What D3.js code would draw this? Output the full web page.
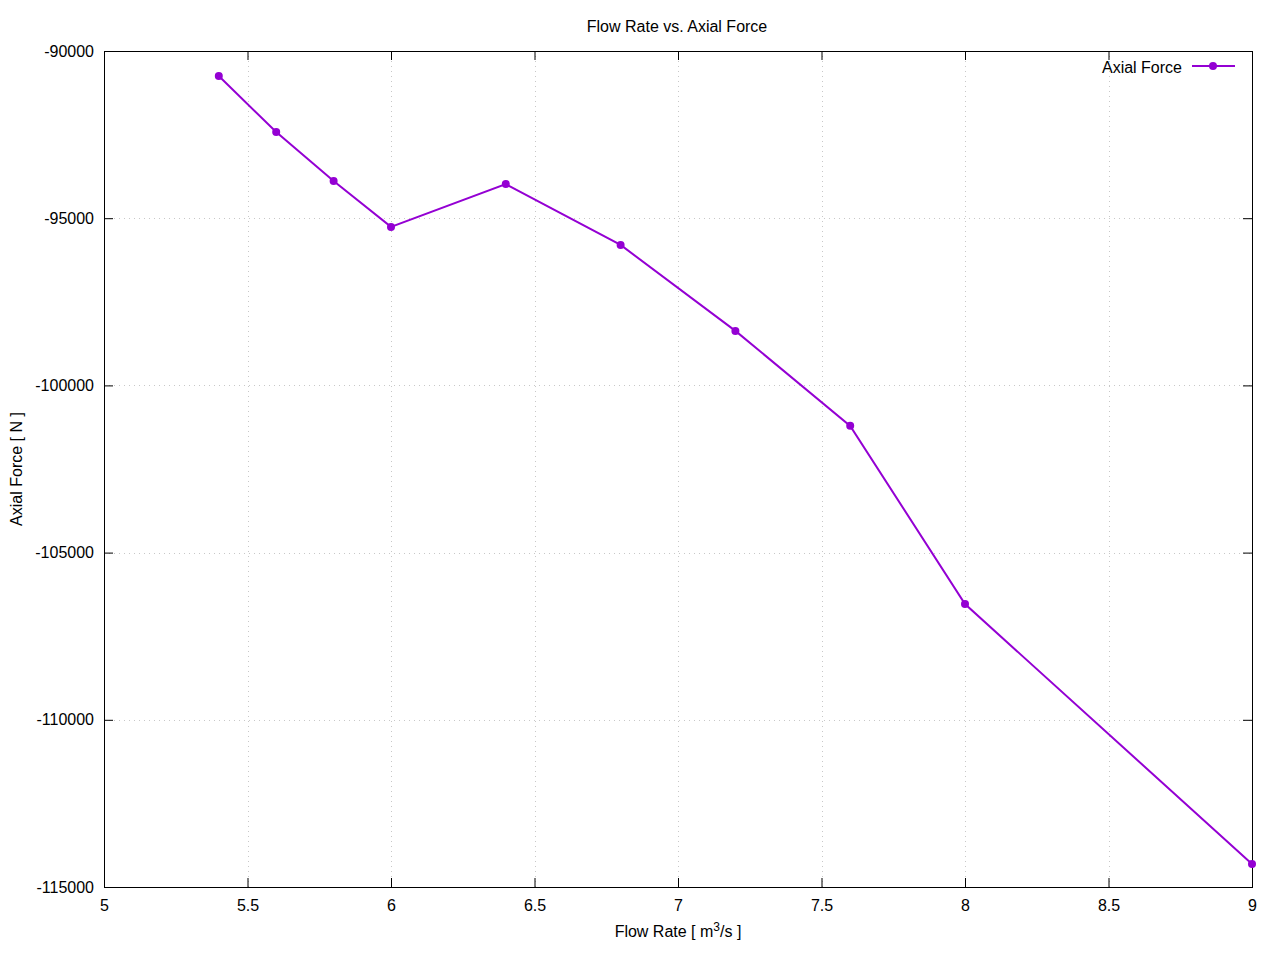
<!DOCTYPE html>
<html>
<head>
<meta charset="utf-8">
<style>
body { margin: 0; background: #fff; }
text { font-family: "Liberation Sans", Arial, sans-serif; fill: #000; }
</style>
</head>
<body>
<svg id="chart"></svg>
<script src="https://cdn.jsdelivr.net/npm/d3@7/dist/d3.min.js"></script>
<script>
// data
var flowRate = [5.4, 5.6, 5.8, 6.0, 6.4, 6.8, 7.2, 7.6, 8.0, 9.0];
var axialForce = [-90750, -92420, -93890, -95260, -93980, -95800, -98370, -101210, -106540, -114310];
var xTicks = [5, 5.5, 6, 6.5, 7, 7.5, 8, 8.5, 9];
var yTicks = [-90000, -95000, -100000, -105000, -110000, -115000];

var W = 1280, H = 960;
var pLeft = 104, pRight = 1252, pTop = 51, pBottom = 887;
var color = "#9400d3";

var svg = d3.select("#chart").attr("width", W).attr("height", H);

var x = d3.scaleLinear().domain([5, 9]).range([pLeft, pRight]);
var y = d3.scaleLinear().domain([-115000, -90000]).range([pBottom, pTop]);

// grid
var grid = svg.append("g").attr("stroke", "#c8c8c8").attr("stroke-width", 1).attr("stroke-dasharray", "1,4");
xTicks.slice(1, -1).forEach(function(t) {
  grid.append("line").attr("x1", Math.round(x(t)) + 0.5).attr("x2", Math.round(x(t)) + 0.5).attr("y1", pTop).attr("y2", pBottom);
});
yTicks.slice(1, -1).forEach(function(t) {
  grid.append("line").attr("x1", pLeft).attr("x2", pRight).attr("y1", Math.round(y(t)) + 0.5).attr("y2", Math.round(y(t)) + 0.5);
});

// axes (gnuplot style: inward ticks, mirrored)
var tl = 9;
var axB = d3.axisBottom(x).tickValues(xTicks).tickSizeInner(-tl).tickSizeOuter(0).tickPadding(tl + 4).tickFormat(function(d) { return String(d); });
var axT = d3.axisTop(x).tickValues(xTicks).tickSizeInner(-tl).tickSizeOuter(0).tickFormat("");
var axL = d3.axisLeft(y).tickValues(yTicks).tickSizeInner(-tl).tickSizeOuter(0).tickPadding(10).tickFormat(function(d) { return String(d); });
var axR = d3.axisRight(y).tickValues(yTicks).tickSizeInner(-tl).tickSizeOuter(0).tickFormat("");

[[axB, "translate(0," + pBottom + ")"], [axT, "translate(0," + pTop + ")"],
 [axL, "translate(" + pLeft + ",0)"], [axR, "translate(" + pRight + ",0)"]].forEach(function(a) {
  var g = svg.append("g").attr("transform", a[1]).call(a[0]);
  g.select(".domain").remove();
  g.selectAll("line").attr("stroke", "#000");
  g.selectAll("text").style("font-size", "16px").attr("fill", "#000")
    .style("font-family", "'Liberation Sans', Arial, sans-serif");
});

svg.append("rect").attr("x", pLeft + 0.5).attr("y", pTop + 0.5)
  .attr("width", pRight - pLeft).attr("height", pBottom - pTop)
  .attr("fill", "none").attr("stroke", "#000").attr("stroke-width", 1);

// series
var pts = flowRate.map(function(d, i) { return [d, axialForce[i]]; });
var line = d3.line().x(function(d) { return x(d[0]); }).y(function(d) { return y(d[1]); });
svg.append("path").datum(pts).attr("d", line)
  .attr("fill", "none").attr("stroke", color).attr("stroke-width", 2);
svg.append("g").selectAll("circle").data(pts).enter().append("circle")
  .attr("cx", function(d) { return x(d[0]); })
  .attr("cy", function(d) { return y(d[1]); })
  .attr("r", 4).attr("fill", color);

// legend
svg.append("text").attr("x", 1182).attr("y", 73).attr("text-anchor", "end")
  .style("font-size", "16px").text("Axial Force");
svg.append("line").attr("x1", 1192).attr("x2", 1235).attr("y1", 66).attr("y2", 66)
  .attr("stroke", color).attr("stroke-width", 2);
svg.append("circle").attr("cx", 1213).attr("cy", 66).attr("r", 4).attr("fill", color);

// titles
svg.append("text").attr("x", 677).attr("y", 32).attr("text-anchor", "middle")
  .style("font-size", "16px").text("Flow Rate vs. Axial Force");

var xl = svg.append("text").attr("x", 678).attr("y", 937).attr("text-anchor", "middle").style("font-size", "16px");
xl.append("tspan").text("Flow Rate [ m");
xl.append("tspan").attr("dy", -6).style("font-size", "12px").text("3");
xl.append("tspan").attr("dy", 6).text("/s ]");

svg.append("text").attr("transform", "translate(22,469) rotate(-90)").attr("text-anchor", "middle")
  .style("font-size", "16px").text("Axial Force [ N ]");
</script>
</body>
</html>
